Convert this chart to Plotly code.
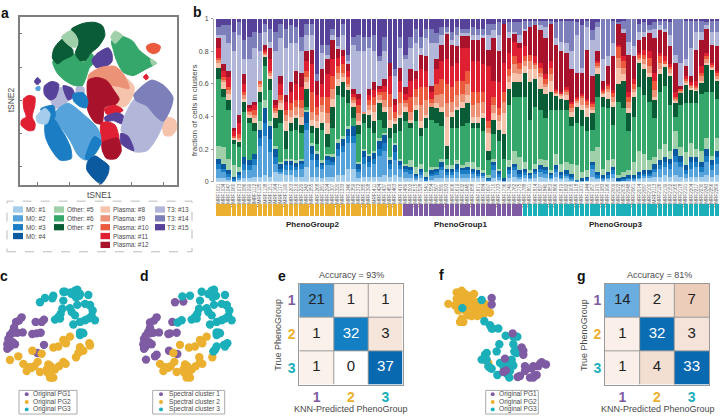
import numpy as np
import plotly.graph_objects as go

W, H = 720, 418
FONT = "Liberation Sans"
GREY = "#4a4a4a"

# cluster colours, #1 .. #15
cluster_names = ["M0: #1", "M0: #2", "M0: #3", "M0: #4", "Other: #5", "Other: #6", "Other: #7",
                 "Plasma: #8", "Plasma: #9", "Plasma: #10", "Plasma: #11", "Plasma: #12",
                 "T3: #13", "T3: #14", "T3: #15"]
cluster_colors = ["#A3CDEA", "#55A3DA", "#1B7DC3", "#0B599F", "#9FD0A9", "#35A76A", "#0A5C36",
                  "#F6C4AC", "#EC9276", "#EC5A3E", "#DF2033", "#A8122B",
                  "#B2B7D9", "#7C7FBA", "#57429A"]
pg_colors = {"PG1": "#7E5BA2", "PG2": "#EBB02F", "PG3": "#1BAFBA"}

# panel a: tSNE regions, drawn in order (cluster number, outline)
tsne_regions = [
    (6, [(158,175),(178,172),(215,150),(235,160),(250,178),(275,150),(285,175),(268,195),(258,225),(246,250),(222,248),(190,230),(170,208)]),
    (7, [(214,76),(250,58),(285,55),(308,66),(315,95),(295,130),(272,150),(256,172),(240,172),(226,150),(236,120),(232,100),(222,88)]),
    (7, [(162,135),(188,106),(205,125),(218,138),(218,155),(190,170),(172,182),(157,165)]),
    (5, [(185,100),(212,80),(224,90),(234,112),(226,132),(208,126),(195,115)]),
    (6, [(335,112),(365,98),(398,112),(418,140),(445,162),(468,180),(435,200),(400,218),(370,208),(350,172),(340,138)]),
    (5, [(333,100),(345,82),(368,95),(360,106),(345,120)]),
    (5, [(452,168),(472,180),(458,186)]),
    (15, [(276,172),(292,150),(325,133),(336,150),(336,176),(315,192),(288,193)]),
    (8, [(320,232),(372,222),(402,250),(402,272),(378,312),(345,310),(345,270)]),
    (9, [(268,214),(300,194),(346,190),(374,218),(388,258),(360,252),(330,246),(320,233),(290,225),(264,233)]),
    (12, [(264,233),(290,224),(320,233),(345,268),(358,290),(348,306),(315,315),(306,366),(285,362),(264,326),(262,280)]),
    (11, [(314,320),(345,309),(370,324),(350,336),(320,336)]),
    (15, [(314,346),(350,332),(370,340),(367,366),(340,356),(318,359)]),
    (11, [(304,364),(325,360),(346,370),(356,416),(310,432),(302,400)]),
    (12, [(307,424),(355,410),(364,450),(350,472),(320,472),(307,446)]),
    (10, [(440,128),(460,119),(482,128),(476,146),(460,151),(444,143)]),
    (11, [(431,222),(440,214),(446,225),(438,231)]),
    (11, [(70,290),(85,279),(104,284),(104,310),(96,345),(105,365),(102,384),(85,387),(63,370),(64,354),(78,345),(71,320)]),
    (8, [(489,370),(505,346),(526,354),(531,380),(516,402),(494,401)]),
    (13, [(366,372),(376,338),(397,298),(412,284),(442,308),(472,330),(492,352),(478,396),(442,448),(400,450),(384,410),(364,388)]),
    (15, [(363,395),(385,404),(402,448),(385,442),(364,426)]),
    (14, [(402,278),(455,232),(492,248),(520,285),(512,322),(491,358),(470,345),(440,310),(410,296)]),
    (13, [(163,258),(196,258),(207,290),(186,314),(160,317),(153,290)]),
    (15, [(133,250),(155,236),(176,244),(166,286),(150,293),(133,276)]),
    (15, [(189,249),(216,257),(224,280),(205,293)]),
    (13, [(230,254),(251,254),(252,273),(229,273)]),
    (15, [(103,237),(112,224),(122,235),(112,246)]),
    (2, [(107,255),(119,251),(119,263),(109,263)]),
    (3, [(219,275),(250,271),(264,295),(259,317),(240,313),(221,296)]),
    (2, [(158,345),(176,318),(205,303),(252,338),(292,378),(303,410),(282,452),(256,477),(234,462),(212,420),(182,378),(160,372)]),
    (3, [(283,405),(304,420),(287,456),(262,477),(256,472)]),
    (3, [(136,365),(162,352),(180,378),(194,400),(212,440),(214,472),(180,477),(152,442),(136,405)]),
    (3, [(122,320),(160,310),(165,345),(145,362),(128,335)]),
    (1, [(108,345),(135,318),(150,335),(140,366),(113,362)]),
    (4, [(264,480),(285,464),(306,477),(327,495),(324,520),(303,550),(274,526),(260,505)]),
]
tsne_xticks = [113, 207, 300, 395, 490]
tsne_yticks = [90, 193, 295, 395, 497]

# panel b: top of each cluster in the stack, % of cells, 36 PG2 + 23 PG1 + 38 PG3 samples
top_c1 = [2,2,1,0,1,2,2,3,3,4,3,6,5,4,4,3,3,9,3,3,2,3,3,4,4,8,8,2,3,3,3,3,4,3,4,3,2,2,1,2,1,1,2,2,2,2,2, 2,2,2,2,2,1,2,1,0, 2,3,2,2,2,2,3,2,2,3,2,2,1,0,0,1,3,2,1,2,2,0,1,1,1,2,2,2,3,3,4,3,4,3,2,3,3,3,4,3,4]
top_c2 = [8,6,3,1,3,7,7,10,22,28,18,11,6,7,7,7,8,32,13,9,8,10,10,16,18,24,24,6,11,9,11,16,19,8,13,8,6,5,3,4,1,4,4,7,4,4,6, 5,5,5,4,4,1,7,3,1, 5,7,3,4,3,5,6,5,3,6,3,4,2,0,1,1,8,3,2,3,5,1,1,2,2,3,4,4,6,8,9,8,12,9,5,8,9,6,12,7,11]
top_c3 = [11,8,5,2,4,11,10,14,27,36,26,15,8,10,10,9,11,36,17,13,10,13,12,20,22,28,28,8,15,12,14,20,24,11,18,10,8,7,4,6,2,5,6,9,6,6,8, 7,7,6,5,5,2,10,5,1, 7,9,5,6,4,6,8,7,4,8,4,5,3,1,1,2,10,4,3,4,7,1,2,3,3,4,5,5,8,10,12,11,16,12,7,12,12,9,16,10,15]
top_c4 = [14,11,7,3,6,15,13,17,32,45,34,20,11,13,13,12,13,43,22,17,12,16,15,24,26,33,34,11,19,16,18,25,29,14,23,13,10,9,5,8,3,7,8,12,8,8,11, 9,9,8,7,6,3,12,7,2, 9,11,7,8,6,8,10,9,6,10,6,7,5,1,2,3,12,6,4,6,9,2,3,4,4,6,7,7,11,13,15,14,20,16,10,15,15,12,20,13,19]
top_c5 = [22,21,14,10,9,15,13,17,37,50,37,22,12,14,14,13,14,44,24,19,13,17,17,26,28,34,34,12,20,17,19,27,30,15,24,14,11,13,9,11,6,9,9,14,10,10,13, 10,12,12,9,7,4,14,8,2, 13,19,15,12,7,11,14,13,7,17,11,12,11,10,6,7,19,21,8,13,14,4,6,7,12,19,17,13,15,20,23,19,31,21,18,24,20,19,27,16,27]
top_c6 = [63,52,44,23,21,43,36,31,49,71,56,33,36,20,31,32,30,46,30,23,32,21,33,53,52,48,39,29,36,33,30,38,33,27,30,31,37,33,37,28,33,38,36,34,14,33,33, 34,36,33,33,31,13,29,25,14, 47,52,52,52,38,46,44,39,44,44,44,44,34,36,34,31,32,52,46,45,35,49,45,31,40,58,53,49,39,55,59,47,40,47,48,48,48,54,55,55,51]
top_c7 = [70,57,50,26,25,49,39,36,55,77,63,39,44,31,36,39,35,57,34,33,36,29,46,59,61,57,46,35,42,41,37,48,43,33,36,39,43,36,44,33,39,46,45,43,22,40,44, 45,48,36,36,39,19,38,32,29, 57,61,61,67,61,63,57,54,55,53,51,50,40,46,44,40,42,66,52,51,46,60,62,42,52,73,69,64,50,66,71,65,48,55,60,57,56,61,72,69,62]
top_c8 = [73,61,54,27,26,51,41,39,58,78,65,42,48,37,40,41,40,61,38,37,43,36,51,63,64,58,48,37,42,44,43,50,46,38,37,41,46,38,47,37,41,46,48,46,40,43,46, 49,53,40,40,42,30,42,37,42, 61,67,66,71,69,69,64,58,62,54,53,53,43,48,47,45,44,70,54,55,49,70,66,45,55,75,72,67,52,69,72,67,50,55,61,58,57,62,73,70,63]
top_c9 = [75,63,57,27,27,53,43,41,60,79,67,44,50,41,44,46,45,64,43,41,47,42,57,67,67,60,50,42,43,47,47,53,50,46,39,48,48,43,52,47,50,48,53,54,48,49,53, 54,60,47,48,49,33,47,41,49, 65,72,69,74,74,72,67,60,66,55,54,55,45,50,52,47,46,71,55,57,52,76,70,49,57,76,75,71,56,73,72,69,51,56,62,59,58,65,75,71,65]
top_c10 = [76,64,58,28,29,55,44,44,62,80,68,45,53,44,48,50,50,68,55,46,52,52,65,71,72,64,52,47,43,50,52,55,55,54,43,55,50,52,57,58,58,51,60,63,60,58,62, 62,68,55,55,55,37,52,45,55, 69,77,73,77,78,73,70,63,70,56,54,57,48,51,53,50,48,73,56,59,55,83,74,52,60,78,78,76,62,77,74,71,52,57,63,60,59,67,77,72,67]
top_c11 = [82,68,64,31,36,60,45,47,62,81,75,47,60,49,55,60,58,74,72,53,60,66,75,76,77,68,54,51,43,53,56,57,59,65,47,62,54,62,63,69,68,55,69,74,75,71,73, 82,82,74,74,72,71,62,61,73, 79,86,82,83,78,77,73,66,74,57,55,58,49,52,54,51,49,74,57,60,56,84,77,55,63,79,81,80,67,79,77,72,55,57,65,61,62,71,79,73,68]
top_c12 = [88,72,68,33,41,66,47,49,62,84,82,50,65,53,61,68,67,80,81,62,69,75,87,82,81,72,57,54,43,57,61,59,63,73,51,70,58,69,68,78,77,59,75,84,91,84,83, 90,90,87,87,88,81,88,80,97, 88,91,85,93,95,96,93,88,97,84,80,79,69,67,67,81,65,80,62,71,77,97,91,78,77,87,89,91,88,93,92,83,73,59,71,65,81,87,94,84,83]
top_c13 = [90,90,85,80,90,75,75,82,80,92,86,80,88,82,85,85,80,90,90,62,79,78,90,83,90,74,84,80,80,82,80,74,80,70,65,82,75,82,85,82,88,85,85,90,92,87,90, 91,91,90,90,90,90,93,90,94, 92,92,90,94,94,96,96,95,97,88,86,85,80,90,70,95,87,95,75,77,85,97,94,86,83,92,92,93,94,96,94,90,78,73,75,82,92,92,96,92,92]
top_c14 = [95,96,96,92,98,87,89,92,91,97,94,92,97,94,96,95,89,97,97,66,84,84,94,89,97,78,89,90,89,89,90,77,89,73,69,89,78,89,94,89,94,94,91,95,95,92,95, 94,94,95,94,94,97,97,98,96, 98,98,98,99,99,99,99,99,99,98,99,99,99,98,96,99,93,98,100,100,99,98,99,100,100,97,98,96,98,99,99,98,100,100,99,99,99,99,98,99,99]
top_c15 = [100] * 97

sample_groups = ["PG2"] * 36 + ["PG1"] * 23 + ["PG3"] * 38
sample_ids = [f"MMRF{1021 + 13 * i}" for i in range(97)]

# panels c, d, f: patient embeddings
c_pg1 = [(65,236),(57,246),(48,250),(42,268),(38,280),(30,290),(25,302),(22,318),(30,325),(45,318),(22,332),(68,282),(52,283),(107,250),(125,250),(132,243),(110,285),(97,287),(122,283),(132,320),(112,345),(38,312),(40,283)]
c_pg2 = [(30,366),(55,355),(70,378),(80,400),(88,388),(103,385),(113,372),(120,403),(97,338),(125,347),(145,380),(140,395),(152,385),(143,405),(150,420),(160,420),(165,395),(177,385),(190,372),(197,378),(228,358),(235,345),(240,327),(240,340),(268,315),(270,322),(250,338),(160,328),(175,325),(190,305),(198,315),(210,295),(155,420),(150,408),(148,390),(95,390)]
c_pg3 = [(120,190),(135,177),(160,170),(157,178),(195,158),(225,155),(232,152),(215,165),(228,175),(238,170),(265,168),(190,185),(187,210),(182,225),(165,243),(180,240),(210,208),(215,220),(225,230),(232,198),(255,195),(270,198),(278,215),(275,232),(265,240),(285,245),(255,245),(240,250),(220,258),(240,282),(248,283),(240,290),(250,285),(270,200),(175,235),(212,160),(190,158),(240,165)]

d_sc1 = [(550,188),(525,190),(470,236),(462,246),(450,252),(450,268),(445,280),(437,292),(432,302),(430,318),(437,325),(455,318),(432,332),(477,282),(460,283),(517,250),(510,285),(505,287),(530,283),(507,338),(532,348),(465,355),(438,365),(447,312),(470,350),(450,285)]
d_sc2 = [(540,320),(567,328),(585,325),(600,305),(607,315),(620,295),(520,345),(480,378),(490,400),(497,388),(512,385),(523,372),(530,403),(555,380),(550,395),(562,385),(553,405),(560,420),(570,420),(575,395),(587,385),(600,372),(607,378),(598,358),(637,358),(565,408),(558,390),(505,390)]
d_sc3 = [(547,172),(570,170),(605,158),(635,155),(642,152),(625,165),(638,175),(648,170),(675,168),(600,185),(597,210),(592,225),(575,243),(590,240),(620,208),(625,220),(635,230),(642,198),(665,195),(680,198),(688,215),(685,232),(675,240),(695,245),(665,245),(650,250),(630,258),(650,282),(658,283),(650,290),(660,285),(680,200),(585,235),(545,245),(533,252),(650,325),(645,335),(640,340),(672,320),(682,315),(675,325)]

f_pg1 = [(65,177),(65,197),(128,285),(155,328),(160,350),(105,362),(165,385),(190,385),(165,400),(215,373),(228,380),(205,385),(200,412),(190,420),(180,420),(150,415),(143,418),(100,403),(108,398),(185,392),(192,415),(160,338),(210,378)]
f_pg2 = [(-65,195),(-40,160),(-25,155),(-15,165),(-30,185),(-10,185),(12,165),(5,185),(0,200),(15,205),(25,195),(-5,230),(5,232),(22,232),(50,215),(60,222),(40,205),(-25,240),(-30,250),(-20,250),(35,225),(45,195),(-35,215),(-15,215),(55,375),(-45,200),(-20,200),(0,175),(10,215),(30,215),(-10,205),(-5,170),(20,190),(-25,170),(40,230),(-40,180)]
f_pg3 = [(-23,208),(35,183),(43,248),(60,260),(68,270),(85,270),(107,292),(130,295),(142,295),(130,318),(88,318),(133,340),(140,345),(80,340),(50,345),(45,350),(35,365),(42,365),(55,385),(65,393),(97,378),(107,365),(125,365),(130,383),(108,388),(120,400),(118,420),(82,412),(112,410),(100,385),(65,270),(138,335),(50,365),(60,390),(90,375),(125,375),(105,378),(115,395)]

# panels e, g: confusion matrices
conf_e = [[21, 1, 1], [1, 32, 3], [1, 0, 37]]
conf_g = [[14, 2, 7], [1, 32, 3], [1, 4, 33]]
conf_scale = [[0, "#FFFFFF"], [0.03, "#FBF0E9"], [0.08, "#F6E5DB"], [0.12, "#F2DFD2"], [0.21, "#EDCDB9"],
              [0.42, "#6BAEE0"], [0.57, "#4C9BD2"], [0.86, "#1480C3"], [1, "#0868B0"]]


def px_x(x):
    return x / W


def px_y(y):
    return 1 - y / H


def dom_x(a, b):
    return [px_x(a), px_x(b)]


def dom_y(top, bottom):
    return [px_y(bottom), px_y(top)]


def note(x, y, text, size=8, color=GREY, bold=False, angle=0, anchor="center"):
    return dict(x=px_x(x), y=px_y(y), xref="paper", yref="paper", text=f"<b>{text}</b>" if bold else text,
                showarrow=False, textangle=angle, xanchor=anchor, yanchor="middle", borderpad=0,
                font=dict(family=FONT, size=size, color=color))


fig = go.Figure()
notes = []
shapes = []

# a
for cluster, outline in tsne_regions:
    xs, ys = zip(*(outline + outline[:1]))
    fig.add_trace(go.Scatter(x=xs, y=ys, mode="lines", fill="toself", fillcolor=cluster_colors[cluster - 1],
                             line=dict(color=cluster_colors[cluster - 1], width=1, shape="spline", smoothing=0.7),
                             xaxis="x", yaxis="y"))

# b
tops = np.array([top_c1, top_c2, top_c3, top_c4, top_c5, top_c6, top_c7, top_c8, top_c9, top_c10,
                 top_c11, top_c12, top_c13, top_c14, top_c15], dtype=float) / 100
tops = np.maximum.accumulate(tops, axis=0)
shares = np.diff(tops, axis=0, prepend=0)
sample_pos = list(range(97))
for k in range(15):
    fig.add_trace(go.Bar(x=sample_pos, y=shares[k], marker=dict(color=cluster_colors[k], line_width=0),
                         name=cluster_names[k], xaxis="x2", yaxis="y2"))
fig.add_trace(go.Bar(x=sample_pos, y=[1] * 97, marker=dict(color=[pg_colors[g] for g in sample_groups], line_width=0),
                     xaxis="x3", yaxis="y3"))


# c, d, f
def add_points(points, color, ax):
    xs, ys = zip(*points)
    fig.add_trace(go.Scatter(x=xs, y=ys, mode="markers", marker=dict(size=8.4, color=color, line_width=0),
                             xaxis=f"x{ax}", yaxis=f"y{ax}"))


add_points(c_pg1, pg_colors["PG1"], 4)
add_points(c_pg2, pg_colors["PG2"], 4)
add_points(c_pg3, pg_colors["PG3"], 4)
add_points(d_sc1, pg_colors["PG1"], 5)
add_points(d_sc2, pg_colors["PG2"], 5)
add_points(d_sc3, pg_colors["PG3"], 5)
add_points(f_pg2, pg_colors["PG2"], 7)
add_points(f_pg3, pg_colors["PG3"], 7)
add_points(f_pg1, pg_colors["PG1"], 7)


# e, g
def add_conf(conf, ax):
    n = [1, 2, 3]
    fig.add_trace(go.Heatmap(x=n, y=n, z=conf, zmin=0, zmax=np.max(conf), colorscale=conf_scale, showscale=False,
                             xaxis=f"x{ax}", yaxis=f"y{ax}"))
    xs, ys, labels, colors = [], [], [], []
    for i in n:
        for j in n:
            v = conf[i - 1][j - 1]
            xs.append(j)
            ys.append(i)
            labels.append(str(v))
            colors.append("#FFFFFF" if v >= 32 else "#222222")
    fig.add_trace(go.Scatter(x=xs, y=ys, text=labels, mode="text", textfont=dict(family=FONT, size=15, color=colors),
                             xaxis=f"x{ax}", yaxis=f"y{ax}"))
    for v in (1.5, 2.5):
        shapes.append(dict(type="line", xref=f"x{ax}", yref=f"y{ax}", x0=v, x1=v, y0=0.5, y1=3.5,
                           line=dict(color="#999999", width=1)))
        shapes.append(dict(type="line", xref=f"x{ax}", yref=f"y{ax}", x0=0.5, x1=3.5, y0=v, y1=v,
                           line=dict(color="#999999", width=1)))


add_conf(conf_e, 6)
add_conf(conf_g, 8)

hidden = dict(visible=False, fixedrange=True)
conf_ticks = [f'<b><span style="color:{pg_colors[g]}">{i + 1}</span></b>' for i, g in enumerate(["PG1", "PG2", "PG3"])]
conf_axis = dict(tickmode="array", tickvals=[1, 2, 3], ticktext=conf_ticks, ticks="", showline=True, mirror=True,
                 linecolor="#999999", linewidth=1, showgrid=False, zeroline=False,
                 tickfont=dict(family=FONT, size=14))
scat_y = dict(domain=dom_y(280, 416), range=[528, 120], **hidden)

fig.update_layout(
    width=W, height=H, margin=dict(l=0, r=0, t=0, b=0), showlegend=False, paper_bgcolor="white",
    plot_bgcolor="white", barmode="stack", bargap=0.15,
    xaxis=dict(domain=dom_x(19.5, 177), range=[58, 532], tickmode="array", tickvals=tsne_xticks, ticks="inside",
               ticklen=3, tickcolor="#777777", showticklabels=False, showgrid=False, zeroline=False, showline=True,
               mirror=True, linecolor="#7f7f7f", linewidth=1.5),
    yaxis=dict(domain=dom_y(13, 184), range=[553, 38], tickmode="array", tickvals=tsne_yticks, ticks="inside",
               ticklen=3, tickcolor="#777777", showticklabels=False, showgrid=False, zeroline=False, showline=True,
               mirror=True, linecolor="#7f7f7f", linewidth=1.5),
    xaxis2=dict(domain=dom_x(214, 720), range=[-0.83, 96.58], anchor="y2", tickmode="array", tickvals=sample_pos,
                ticktext=sample_ids, tickangle=-90, ticks="", tickfont=dict(family=FONT, size=4.6, color="#666666"),
                showgrid=False, zeroline=False, showline=False),
    yaxis2=dict(domain=dom_y(15, 180.7), range=[0, 1], anchor="x2", tickmode="array", tickvals=[0, 0.2, 0.4, 0.6, 0.8, 1],
                ticktext=["0", "0.2", "0.4", "0.6", "0.8", "1"], ticks="outside", ticklen=2, tickcolor="#999999",
                tickfont=dict(family=FONT, size=7, color=GREY), showgrid=False, zeroline=False, showline=True,
                linecolor="#aaaaaa", linewidth=1, ticklabelstandoff=1),
    xaxis3=dict(domain=dom_x(214, 720), range=[-0.83, 96.58], anchor="y3", **hidden),
    yaxis3=dict(domain=dom_y(203, 215.7), range=[0, 1], anchor="x3", **hidden),
    xaxis4=dict(domain=dom_x(0, 120), range=[0, 360], anchor="y4", **hidden),
    yaxis4=dict(anchor="x4", **scat_y),
    xaxis5=dict(domain=dom_x(130, 240), range=[390, 720], anchor="y5", **hidden),
    yaxis5=dict(anchor="x5", **scat_y),
    xaxis6=dict(domain=dom_x(299.3, 402.7), range=[0.5, 3.5], anchor="y6", **conf_axis),
    yaxis6=dict(domain=dom_y(284.3, 387), range=[3.5, 0.5], anchor="x6", **conf_axis),
    xaxis7=dict(domain=dom_x(440, 560), range=[-90, 270], anchor="y7", **hidden),
    yaxis7=dict(anchor="x7", **scat_y),
    xaxis8=dict(domain=dom_x(605, 709), range=[0.5, 3.5], anchor="y8", **conf_axis),
    yaxis8=dict(domain=dom_y(284.3, 387), range=[3.5, 0.5], anchor="x8", **conf_axis),
)

# panel letters
for letter, x, y in [("a", 5, 9), ("b", 197, 8), ("c", 4, 277), ("d", 144, 277), ("e", 282, 277), ("f", 441, 276), ("g", 581, 277)]:
    notes.append(note(x, y, letter, size=14, color="#111111", bold=True))

# axis titles
notes += [
    note(99, 194, "tSNE1", 8.5), note(11, 98, "tSNE2", 8.5, angle=-90),
    note(194, 108, "fraction of cells in clusters", 8, angle=-90),
    note(312, 224, "PhenoGroup2", 8, "#222222", True),
    note(461, 224, "PhenoGroup1", 8, "#222222", True),
    note(615, 224, "PhenoGroup3", 8, "#222222", True),
    note(351.7, 276, "Accuracy = 93%", 9), note(351, 412, "KNN-Predicted PhenoGroup", 9),
    note(277.7, 336.7, "True PhenoGroup", 9, angle=-90),
    note(659, 276, "Accuracy = 81%", 9), note(658, 412, "KNN-Predicted PhenoGroup", 9),
    note(584, 336.7, "True PhenoGroup", 9, angle=-90),
]

# panel a legend
shapes.append(dict(type="rect", xref="paper", yref="paper", x0=px_x(7), x1=px_x(192), y0=px_y(252), y1=px_y(200.5),
                   line=dict(color="#bbbbbb", width=1, dash="dash")))
legend_rows = [209, 218, 227, 236, 245]
legend_cols = [(13, 23, 24.5, [0, 1, 2, 3]), (54, 64, 65.5, [4, 5, 6]), (100.5, 110, 111.5, [7, 8, 9, 10, 11]), (155, 165, 166, [12, 13, 14])]
for x0, x1, tx, members in legend_cols:
    for row, k in zip(legend_rows, members):
        shapes.append(dict(type="rect", xref="paper", yref="paper", x0=px_x(x0), x1=px_x(x1), y0=px_y(row + 3.2),
                           y1=px_y(row - 3.2), fillcolor=cluster_colors[k], line_width=0))
        notes.append(note(tx, row, cluster_names[k], 6.4, anchor="left"))

# panel c, d, f legends
for box0, box1, mx, tx, labels in [(19, 77, 26.7, 32, ["Original PG1", "Original PG2", "Original PG3"]),
                                   (152.7, 224.7, 161, 167.7, ["Spectral cluster 1", "Spectral cluster 2", "Spectral cluster 3"]),
                                   (485.7, 538.3, 492.7, 497.7, ["Original PG1", "Original PG2", "Original PG3"])]:
    shapes.append(dict(type="rect", xref="paper", yref="paper", x0=px_x(box0), x1=px_x(box1), y0=px_y(417), y1=px_y(393),
                       line=dict(color="#aaaaaa", width=1)))
    for row, label, g in zip([396.8, 404.7, 412.3], labels, ["PG1", "PG2", "PG3"]):
        shapes.append(dict(type="circle", xref="paper", yref="paper", x0=px_x(mx - 2), x1=px_x(mx + 2), y0=px_y(row + 2),
                           y1=px_y(row - 2), fillcolor=pg_colors[g], line_width=0))
        notes.append(note(tx, row, label, 6.6, anchor="left"))

fig.update_layout(annotations=notes, shapes=shapes)
fig.write_html("out.html", config={"displayModeBar": False}, post_script="document.body.style.margin='0';")
